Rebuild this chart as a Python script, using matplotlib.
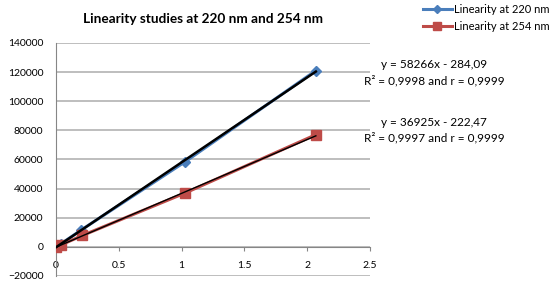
import numpy as np
import matplotlib
matplotlib.use("Agg")
import matplotlib.pyplot as plt

plt.rcParams["font.family"] = ["Lato", "DejaVu Sans"]

# datos
conc_220 = [0.0, 0.04, 0.2, 1.03, 2.07]
area_220 = [0, 2100, 11500, 58500, 121000]
conc_254 = [0.0, 0.04, 0.21, 1.03, 2.07]
area_254 = [0, 1300, 7800, 37000, 77000]

# rectas de regresion (pendiente, intercepto)
fit_220 = (58266, -284.09)
fit_254 = (36925, -222.47)

etiquetas_fit = [
    ("y = 58266x - 284,09", 125300),
    ("R² = 0,9998 and r = 0,9999", 114400),
    ("y = 36925x - 222,47", 85600),
    ("R² = 0,9997 and r = 0,9999", 74700),
]

fig = plt.figure(figsize=(5.57, 2.86), dpi=100)
ax = fig.add_axes([0.1005, 0.035, 0.5635, 0.815])

azul = "#4a7ebb"
rojo = "#be4b48"

ax.plot(conc_220, area_220, color=azul, lw=2.2, marker="D", ms=5, label="Linearity at 220 nm", zorder=3)
ax.plot(conc_254, area_254, color=rojo, lw=2.2, marker="s", ms=6.5, label="Linearity at 254 nm", zorder=3)

xs = np.array([0, max(conc_220)])
ax.plot(xs, fit_220[0] * xs + fit_220[1], color="black", lw=1.8, zorder=4)
ax.plot(xs, fit_254[0] * xs + fit_254[1], color="black", lw=1.0, zorder=4)

ax.set_xlim(0, 2.5)
ax.set_ylim(-20000, 140000)
ax.set_yticks(range(-20000, 140001, 20000))
ax.set_xticks([0, 0.5, 1, 1.5, 2, 2.5])
ax.set_xticklabels(["0", "0.5", "1", "1.5", "2", "2.5"])
ax.yaxis.grid(True, color="#b3b3b3", lw=1.2)
ax.set_axisbelow(True)

for s in ["top", "right"]:
    ax.spines[s].set_visible(False)
ax.spines["bottom"].set_position(("data", 0))
ax.spines["left"].set_color("#868686")
ax.spines["bottom"].set_color("#868686")
ax.tick_params(axis="y", length=0, labelsize=7.5, pad=9)
ax.tick_params(axis="x", length=3, direction="out", color="#868686", labelsize=7.5, pad=7.5)

ax.set_title("Linearity studies at 220 nm and 254 nm", fontsize=9.8, fontweight="bold",
             x=0.47, y=1.05)

for txt, yv in etiquetas_fit:
    ax.text(3.01, yv, txt, fontsize=8.5, ha="center", va="center", clip_on=False)

fig.legend(loc="upper left", bbox_to_anchor=(0.759, 0.985), frameon=False, fontsize=8,
           borderpad=0, borderaxespad=0, handlelength=2.6, handletextpad=0.2, labelspacing=0.5,
           markerscale=0.8)

fig.savefig("out.png", dpi=100)
